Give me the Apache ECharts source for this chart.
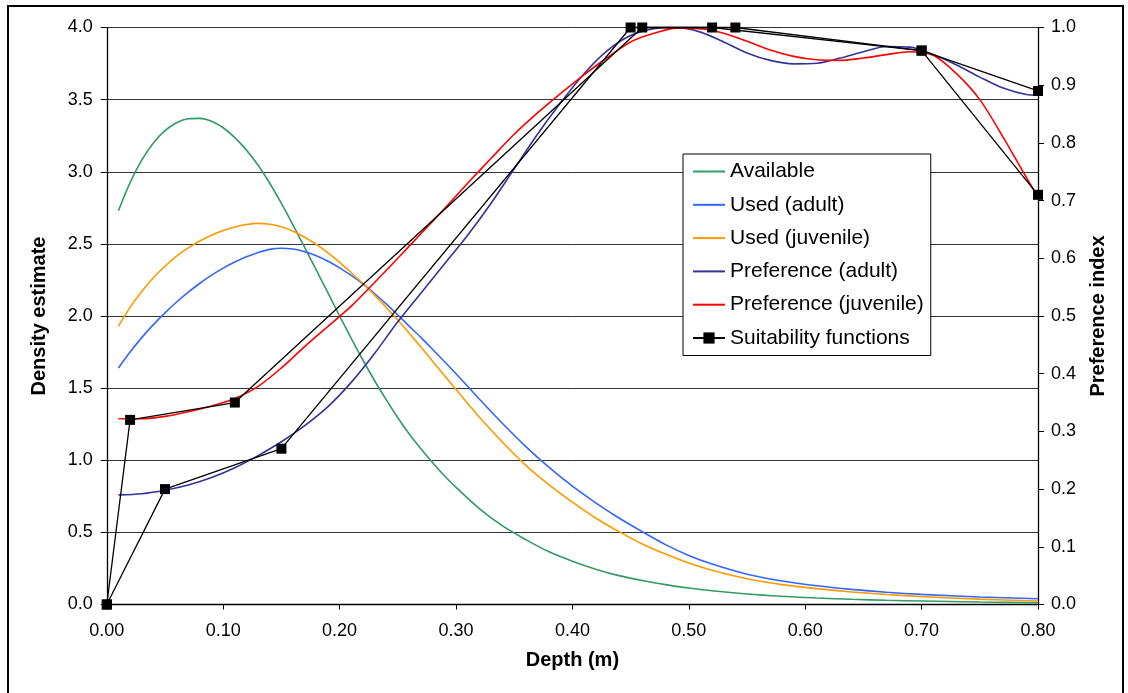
<!DOCTYPE html>
<html>
<head>
<meta charset="utf-8">
<script src="https://cdn.jsdelivr.net/npm/echarts@6/dist/echarts.min.js"></script>
<style>
html,body{margin:0;padding:0;background:#fff;}
#chart{width:1128px;height:693px;}
</style>
</head>
<body>
<div id="chart"></div>
<script>
// ---- Data ----
const depthDensity = [0.01,0.02,0.03,0.04,0.05,0.06,0.07,0.08,0.09,0.10,0.11,0.12,0.13,0.14,0.15,0.16,0.17,0.18,0.19,0.20,0.21,0.22,0.23,0.24,0.25,0.26,0.27,0.28,0.29,0.30,0.32,0.34,0.36,0.38,0.40,0.42,0.44,0.46,0.48,0.50,0.52,0.55,0.58,0.61,0.64,0.67,0.70,0.75,0.80];
const available = [2.73,2.925,3.08,3.2,3.285,3.34,3.367,3.37,3.35,3.305,3.237,3.15,3.045,2.92,2.78,2.63,2.475,2.318,2.16,2.0,1.845,1.695,1.553,1.42,1.295,1.18,1.078,0.982,0.893,0.812,0.665,0.545,0.45,0.365,0.30,0.245,0.2,0.166,0.138,0.114,0.095,0.073,0.057,0.045,0.036,0.029,0.024,0.017,0.0125];
const usedAdult = [1.64,1.75,1.85,1.94,2.022,2.097,2.165,2.227,2.283,2.332,2.374,2.41,2.44,2.462,2.47,2.464,2.446,2.418,2.38,2.334,2.281,2.222,2.156,2.084,2.007,1.928,1.85,1.768,1.685,1.60,1.425,1.255,1.095,0.95,0.82,0.705,0.60,0.505,0.415,0.34,0.28,0.21,0.163,0.13,0.105,0.085,0.07,0.052,0.04];
const usedJuvenile = [1.93,2.06,2.17,2.265,2.345,2.415,2.472,2.52,2.56,2.592,2.617,2.634,2.642,2.636,2.618,2.587,2.546,2.496,2.438,2.372,2.30,2.225,2.145,2.06,1.972,1.879,1.783,1.685,1.587,1.49,1.30,1.125,0.965,0.83,0.71,0.60,0.505,0.42,0.35,0.288,0.237,0.178,0.138,0.11,0.087,0.069,0.055,0.037,0.024];

const depthPref = [0.01,0.03,0.05,0.07,0.09,0.11,0.13,0.15,0.17,0.19,0.21,0.23,0.25,0.27,0.29,0.31,0.33,0.35,0.37,0.39,0.41,0.43,0.45,0.47,0.49,0.51,0.53,0.55,0.57,0.59,0.61,0.63,0.65,0.67,0.69,0.71,0.73,0.75,0.77,0.79,0.80];
const prefAdult = [0.19,0.192,0.198,0.207,0.22,0.237,0.258,0.282,0.31,0.343,0.385,0.435,0.49,0.54,0.59,0.64,0.695,0.755,0.815,0.87,0.92,0.96,0.986,0.998,1.0,0.992,0.975,0.956,0.943,0.937,0.938,0.947,0.958,0.967,0.966,0.953,0.935,0.914,0.895,0.884,0.883];
const prefJuvenile = [0.322,0.322,0.326,0.334,0.344,0.357,0.378,0.41,0.447,0.482,0.517,0.558,0.6,0.643,0.686,0.73,0.773,0.815,0.852,0.886,0.918,0.948,0.975,0.99,0.999,0.998,0.99,0.976,0.961,0.95,0.944,0.943,0.947,0.953,0.958,0.952,0.92,0.875,0.81,0.74,0.706];

const suitAdultDepth = [0, 0.05, 0.15, 0.45, 0.52, 0.70, 0.80];
const suitAdultValue = [0, 0.20, 0.27, 1.0, 1.0, 0.96, 0.89];
const suitJuvDepth = [0, 0.02, 0.11, 0.46, 0.54, 0.70, 0.80];
const suitJuvValue = [0, 0.32, 0.35, 1.0, 1.0, 0.96, 0.71];

const legendNames = ['Available', 'Used (adult)', 'Used (juvenile)', 'Preference (adult)', 'Preference (juvenile)', 'Suitability functions'];

const pairs = (xs, ys) => xs.map((x, i) => [x, ys[i]]);

const FONT = "'Liberation Sans', Arial, sans-serif";
const chart = echarts.init(document.getElementById('chart'), null, {renderer: 'canvas'});

function curve(name, xs, ys, color, axis) {
  return {
    name: name, type: 'line', yAxisIndex: axis,
    data: pairs(xs, ys), smooth: 0.3, symbol: 'none', showSymbol: false,
    lineStyle: {color: color, width: 1.6}, itemStyle: {color: color},
    animation: false, z: 3
  };
}
function suit(xs, ys) {
  return {
    name: 'Suitability functions', type: 'line', yAxisIndex: 1,
    data: pairs(xs, ys), symbol: 'rect', symbolSize: 10, showSymbol: true,
    clip: false,
    lineStyle: {color: '#000', width: 1.3}, itemStyle: {color: '#000'},
    animation: false, z: 4
  };
}

const option = {
  backgroundColor: '#fff',
  animation: false,
  textStyle: {fontFamily: FONT},
  grid: {left: 106.8, right: 90, top: 27.5, bottom: 88.5, containLabel: false},
  graphic: [{
    type: 'rect', shape: {x: 8, y: 6, width: 1115, height: 700},
    style: {fill: 'none', stroke: '#000', lineWidth: 2}, silent: true, z: -1
  }],
  legend: {
    orient: 'vertical', left: 683, top: 154,
    itemWidth: 32, itemHeight: 14, itemGap: 12.3,
    padding: [7, 7, 7, 9],
    backgroundColor: '#fff', borderColor: '#000', borderWidth: 1,
    textStyle: {fontSize: 21, color: '#000', fontFamily: FONT},
    data: legendNames.map((n, i) => i < 5 ? {name: n, itemStyle: {opacity: 0}} : {name: n})
  },
  xAxis: {
    type: 'value', min: 0, max: 0.8, interval: 0.1,
    name: 'Depth (m)', nameLocation: 'middle', nameGap: 46,
    nameTextStyle: {fontSize: 20, fontWeight: 'bold', color: '#000', fontFamily: FONT},
    axisLine: {show: true, lineStyle: {color: '#000', width: 1.3}},
    axisTick: {show: true, inside: false, length: 5, lineStyle: {color: '#000'}},
    axisLabel: {fontSize: 18, color: '#000', margin: 18, fontFamily: FONT, formatter: v => v.toFixed(2)},
    splitLine: {show: false}
  },
  yAxis: [{
    type: 'value', min: 0, max: 4, interval: 0.5, position: 'left',
    name: 'Density estimate', nameLocation: 'middle', nameGap: 57,
    nameTextStyle: {fontSize: 20, fontWeight: 'bold', color: '#000', fontFamily: FONT},
    axisLine: {show: true, lineStyle: {color: '#000', width: 1.3}},
    axisTick: {show: true, inside: false, length: 6, lineStyle: {color: '#000'}},
    axisLabel: {fontSize: 18, color: '#000', margin: 14, fontFamily: FONT, formatter: v => v.toFixed(1)},
    splitLine: {show: true, lineStyle: {color: '#333', width: 1}}
  }, {
    type: 'value', min: 0, max: 1, interval: 0.1, position: 'right',
    name: 'Preference index', nameLocation: 'middle', nameGap: 50, nameRotate: 90,
    nameTextStyle: {fontSize: 20, fontWeight: 'bold', color: '#000', fontFamily: FONT},
    axisLine: {show: true, lineStyle: {color: '#000', width: 1.3}},
    axisTick: {show: true, inside: false, length: 6, lineStyle: {color: '#000'}},
    axisLabel: {fontSize: 18, color: '#000', margin: 13, fontFamily: FONT, formatter: v => v.toFixed(1)},
    splitLine: {show: false}
  }],
  series: [
    curve('Available', depthDensity, available, '#339966', 0),
    curve('Used (adult)', depthDensity, usedAdult, '#3366FF', 0),
    curve('Used (juvenile)', depthDensity, usedJuvenile, '#FF9900', 0),
    curve('Preference (adult)', depthPref, prefAdult, '#333399', 1),
    curve('Preference (juvenile)', depthPref, prefJuvenile, '#FF0000', 1),
    suit(suitAdultDepth, suitAdultValue),
    suit(suitJuvDepth, suitJuvValue)
  ]
};
chart.setOption(option);
</script>
</body>
</html>
